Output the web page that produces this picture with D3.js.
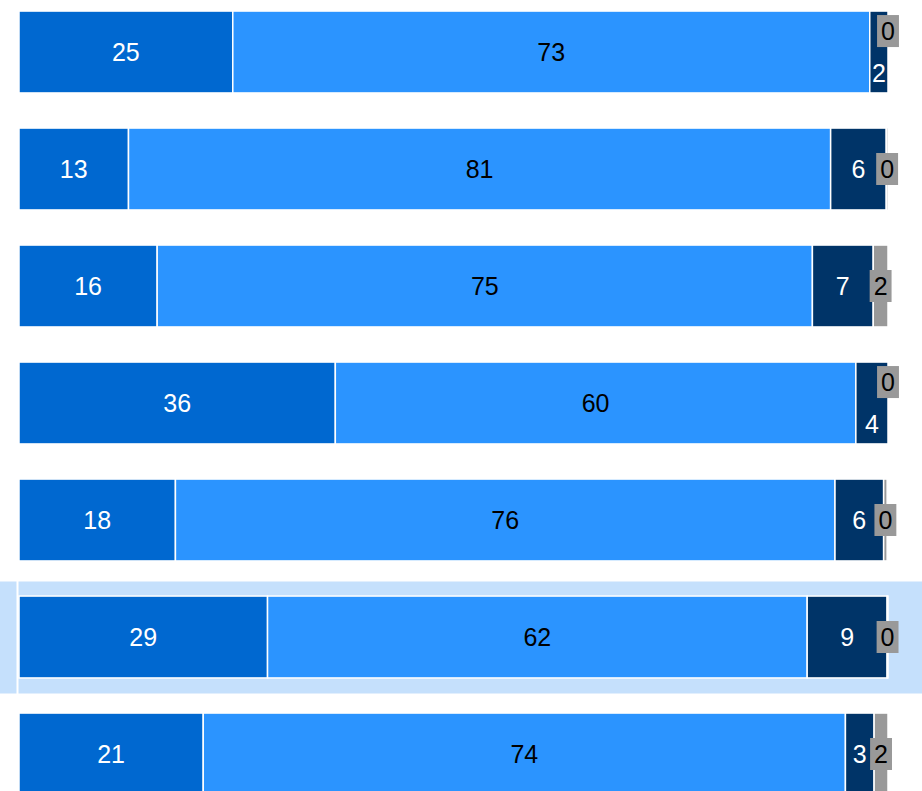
<!DOCTYPE html>
<html>
<head>
<meta charset="utf-8">
<script src="https://cdn.jsdelivr.net/npm/d3@7"></script>
<style>
  html, body { margin: 0; padding: 0; background: #fff; }
  svg { display: block; }
  text { font-family: "Liberation Sans", Arial, Helvetica, sans-serif; }
</style>
</head>
<body>
<svg id="chart" width="922" height="791"></svg>
<script>
// ---- data ----
const categories = ["Row 1", "Row 2", "Row 3", "Row 4", "Row 5", "Row 6", "Row 7"];
const seriesNames = ["Series A", "Series B", "Series C", "Series D"];
const seriesA = [24.6, 12.6, 15.9, 36.4, 18.0, 28.6, 21.2];
const seriesB = [73.3, 80.8, 75.4, 59.9, 75.9, 62.1, 73.9];
const seriesC = [2.1, 6.4, 7.0, 3.7, 5.6, 9.2, 3.3];
const seriesD = [0.0, 0.2, 1.7, 0.0, 0.4, 0.1, 1.6];
const highlighted = "Row 6";

const colors = ["#0068d0", "#2b94ff", "#003468", "#999999"];
const labelColors = ["#ffffff", "#000000", "#ffffff", "#000000"];

const W = 922, H = 791;
const svg = d3.select("#chart");

const x = d3.scaleLinear().domain([0, 100]).range([19, 888]);
const y = d3.scaleBand().domain(categories).range([-6.5, 812.5])
  .paddingInner(0.3).paddingOuter(0.15);

const table = categories.map((c, i) => ({ cat: c, vals: [seriesA[i], seriesB[i], seriesC[i], seriesD[i]] }));
const stack = d3.stack().keys([0, 1, 2, 3]).value((d, k) => d.vals[k]);
const stacked = stack(table);

// highlight band
const bandH = 112;
svg.append("rect")
  .attr("x", 0).attr("width", W)
  .attr("y", y(highlighted) + y.bandwidth() / 2 - bandH / 2 + 0.5)
  .attr("height", bandH)
  .attr("fill", "#c5e0fc");

// axis line (white)
svg.append("line")
  .attr("x1", 17.5).attr("x2", 17.5).attr("y1", 0).attr("y2", H)
  .attr("stroke", "#ffffff").attr("stroke-width", 2);

// bars
const g = svg.append("g");
stacked.forEach((layer, k) => {
  g.selectAll(null).data(layer).enter().append("rect")
    .attr("x", d => x(d[0]))
    .attr("width", d => Math.max(0, x(d[1]) - x(d[0])))
    .attr("y", d => y(d.data.cat))
    .attr("height", y.bandwidth())
    .attr("fill", colors[k])
    .attr("stroke", "#ffffff")
    .attr("stroke-width", 1.5);
});

// labels
const fs = 25;
const fmt = d3.format(".0f");
const lg = svg.append("g").attr("font-size", fs);
table.forEach((row, i) => {
  const top = y(row.cat), bot = top + y.bandwidth(), mid = top + y.bandwidth() / 2;
  const centers = stacked.map(layer => (x(layer[i][0]) + x(layer[i][1])) / 2);
  const overlap = Math.abs(centers[3] - centers[2]) < 18;
  const ys = [mid, mid, overlap ? bot - 20 : mid, overlap ? top + 20 : mid];
  [0, 1, 2, 3].forEach(k => {
    const txt = fmt(row.vals[k]);
    if (k === 3) {
      const tw = txt.length * fs * 0.556;
      lg.append("rect")
        .attr("x", centers[k] - tw / 2 - 4)
        .attr("y", ys[k] - 16)
        .attr("width", tw + 8)
        .attr("height", 32)
        .attr("fill", colors[3]);
    }
    lg.append("text")
      .attr("x", centers[k])
      .attr("y", ys[k])
      .attr("dy", "0.36em")
      .attr("text-anchor", "middle")
      .attr("fill", labelColors[k])
      .text(txt);
  });
});
</script>
</body>
</html>
